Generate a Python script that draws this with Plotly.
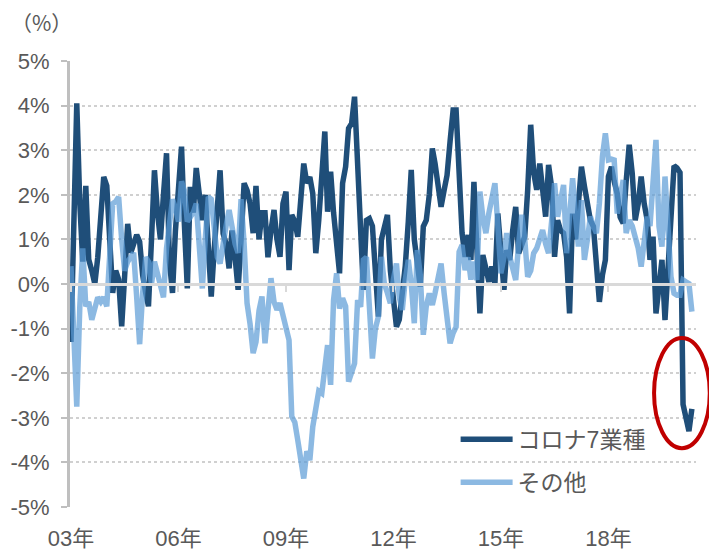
import pandas as pd
import plotly.graph_objects as go

# monthly data, Jan 2003 - May 2020
months = pd.date_range("2003-01-01", periods=209, freq="MS")

corona7 = [
    -1.3, 1.4, 4.05, 1.8, 0.5, 2.2, 0.55, 0.3, 0.0, 0.6,
    1.5, 2.4, 2.2, 1.0, -0.2, 0.3, 0.1, -0.95, 0.3, 1.35,
    0.7, 0.9, 1.1, 0.95, 0.2, -0.2, -0.5, 1.0, 2.55, 1.6,
    1.0, 2.0, 2.93, 0.5, -0.2, 1.2, 2.2, 3.08, 1.4, -0.1,
    2.18, 1.6, 2.6, 2.0, 1.43, 2.0, 1.0, -0.28, 0.8, 1.6,
    2.55, 1.13, 0.9, 0.35, 1.2, 0.6, -0.13, 1.0, 2.26, 2.1,
    1.8, 1.14, 2.2, 1.0, 1.6, 1.6, 0.6, 1.2, 1.66, 1.0,
    0.61, 1.8, 2.07, 0.31, 1.55, 1.4, 1.06, 1.9, 2.7, 2.26,
    2.4, 2.03, 0.69, 1.43, 2.3, 3.42, 1.62, 2.52, 1.6, 0.8,
    0.24, 2.26, 2.63, 3.49, 3.6, 4.2, 2.5, 1.0, -0.13, 1.43,
    1.47, 1.3, 0.3, -0.73, 1.0, 1.3, 1.55, 0.3, -0.5, -0.96,
    -0.8, -0.3, 0.4, 1.4, 2.56, 1.0, 0.5, -0.06, 1.29, 1.43,
    2.0, 3.04, 2.7, 2.2, 1.73, 2.1, 2.44, 3.2, 3.9, 3.9,
    2.5, 1.14, 0.61, 1.1, 0.54, 2.29, 0.8, -0.66, 0.65, 0.3,
    0.05, 0.39, 0.01, 1.58, 0.7, -0.13, 0.76, 0.54, 1.2, 1.73,
    0.69, 0.9, 1.06, 2.11, 3.57, 2.5, 2.11, 2.7, 2.0, 1.51,
    2.67, 2.18, 0.61, 1.43, 1.2, 1.14, 0.6, -0.66, 1.58, 1.0,
    1.8, 2.63, 2.2, 1.88, 1.43, 1.29, 0.5, -0.4, 0.2, 0.54,
    2.41, 2.63, 2.3, 2.03, 1.5, 1.36, 2.3, 3.12, 2.48, 1.43,
    1.8, 2.41, 1.8, 1.43, 0.54, 1.06, -0.66, -0.06, 0.54, -0.81,
    0.5, 1.8, 2.65, 2.6, 2.5, -2.7, -3.0, -3.3, -2.8,
]

others = [
    0.4, -1.2, -2.75, -0.5, 0.8, -0.5, -0.4, -0.8, -0.5, -0.3,
    -0.4, -0.3, -0.5, 0.5, 1.8, 1.85, 1.95, 1.0, 0.3, 0.5,
    0.6, 0.7, -0.3, -1.35, -0.2, 0.6, 0.5, 0.0, 0.5, 0.2,
    -0.1, -0.3, 0.8, 1.5, 1.9, 1.7, 1.4, 2.3, 2.1, 1.4,
    1.5, 1.6, 1.8, 1.0, -0.1, 1.0, 1.95, 1.9, 1.2, 0.6,
    0.46, 0.95, 1.3, 1.66, 1.2, 0.9, 0.7, 1.9, 0.9, -0.43,
    -0.9, -1.55, -1.3, -0.6, -0.28, -1.33, -0.6, 0.13, -0.4, -0.58,
    -0.43, -0.7, -1.0, -1.26, -2.97, -3.1, -3.5, -4.05, -4.36, -3.75,
    -3.95, -3.2, -2.8, -2.4, -2.45, -1.74, -1.37, -2.26, -0.36, 0.24,
    -0.55, -0.32, -0.5, -2.19, -1.93, -1.78, -0.36, -0.51, 0.54, 0.6,
    -0.5, -1.67, -1.0, -0.73, 0.61, 0.0, -0.2, -0.43, 0.1, 0.46,
    -0.3, -0.58, 0.1, 0.54, 0.0, -0.88, 0.76, 0.2, -1.14, -0.5,
    -0.21, -0.47, -0.2, 0.1, 0.46, -0.2, -0.9, -1.33, -1.1, -0.96,
    0.72, 0.87, 0.31, 0.6, 0.1, 0.5, 0.09, 2.07, 1.5, 1.14,
    1.6, 1.88, 2.26, 1.3, 0.24, 0.6, 1.14, 0.61, 0.4, 0.09,
    0.9, 1.55, 1.0, 0.16, 0.3, 0.69, 0.8, 1.0, 1.21, 0.9,
    0.69, 1.4, 2.26, 1.51, 1.9, 2.22, 0.69, 1.5, 2.37, 1.5,
    0.84, 1.88, 0.54, 1.0, 1.51, 1.3, 1.14, 1.81, 2.86, 3.38,
    2.78, 2.8, 2.78, 1.58, 2.0, 2.33, 1.14, 1.43, 1.3, 1.06,
    0.8, 0.39, 1.0, 1.51, 1.3, 2.5, 3.23, 1.29, 0.84, 2.41,
    1.0, 0.16, -0.21, -0.25, -0.25, 0.09, 0.05, 0.01, -0.62,
]

x_tick_dates = ["2003-01-01", "2006-01-01", "2009-01-01", "2012-01-01", "2015-01-01", "2018-01-01"]
x_tick_labels = ["03年", "06年", "09年", "12年", "15年", "18年"]
y_tick_vals = [5, 4, 3, 2, 1, 0, -1, -2, -3, -4, -5]
y_tick_labels = ["5%", "4%", "3%", "2%", "1%", "0%", "-1%", "-2%", "-3%", "-4%", "-5%"]

FONT = "Arial, 'Liberation Sans', 'Noto Sans CJK JP', sans-serif"
GRAY = "#595959"
x_range = ["2002-12-22", "2020-06-12"]

fig = go.Figure()
fig.add_trace(go.Scatter(
    x=months, y=corona7, name="コロナ7業種", mode="lines",
    line=dict(color="#1F4E79", width=5.5), legendgroup="a",
))
fig.add_trace(go.Scatter(
    x=months, y=others, name="その他", mode="lines",
    line=dict(color="rgba(91,155,213,0.7)", width=5.5), legendgroup="b",
))
# helper trace for the axis drawn at 0%
fig.add_trace(go.Scatter(
    x=[months[0]], y=[0], xaxis="x2", mode="markers",
    marker=dict(opacity=0), showlegend=False, hoverinfo="skip",
))

fig.update_layout(
    width=709, height=544,
    margin=dict(l=62, r=21, t=53, b=45),
    paper_bgcolor="white", plot_bgcolor="white",
    font=dict(family=FONT, color=GRAY, size=22),
    showlegend=True,
    legend=dict(
        x=0.616, y=0.20, xanchor="left", yanchor="top",
        bgcolor="rgba(0,0,0,0)", font=dict(size=23, color=GRAY),
        tracegroupgap=10, itemwidth=52,
    ),
    xaxis=dict(
        type="date", range=x_range, automargin=False,
        tickvals=x_tick_dates, ticktext=x_tick_labels,
        showgrid=False, showline=False, zeroline=False,
        ticks="", ticklabelstandoff=16,
        tickfont=dict(size=22, color=GRAY, family=FONT),
    ),
    xaxis2=dict(
        type="date", range=x_range, overlaying="x", automargin=False,
        anchor="free", position=0.5, side="bottom",
        tickvals=x_tick_dates, showticklabels=False,
        showgrid=False, zeroline=False,
        showline=True, linecolor="#d9d9d9", linewidth=3,
        ticks="outside", ticklen=6, tickwidth=2, tickcolor="#d9d9d9",
    ),
    yaxis=dict(
        range=[-5, 5], tickvals=y_tick_vals, ticktext=y_tick_labels,
        automargin=False,
        showgrid=True, gridcolor="#d0d0d0", griddash="dot", gridwidth=1.5,
        zeroline=False,
        showline=True, linecolor="#bfbfbf", linewidth=3,
        ticks="outside", ticklen=6, tickwidth=2, tickcolor="#bfbfbf",
        ticklabelstandoff=7,
        tickfont=dict(size=22, color=GRAY, family=FONT),
    ),
    annotations=[dict(
        text="（%）", xref="paper", yref="paper",
        x=-0.097, y=1.088, xanchor="left", yanchor="middle",
        showarrow=False,
        font=dict(size=21, color=GRAY, family="'Noto Sans CJK JP', sans-serif"),
    )],
    shapes=[dict(
        type="circle", xref="paper", yref="paper",
        x0=0.933, x1=1.022, y0=0.132, y1=0.379,
        line=dict(color="#C00000", width=4), layer="above",
    )],
)

fig.write_html("out.html")
